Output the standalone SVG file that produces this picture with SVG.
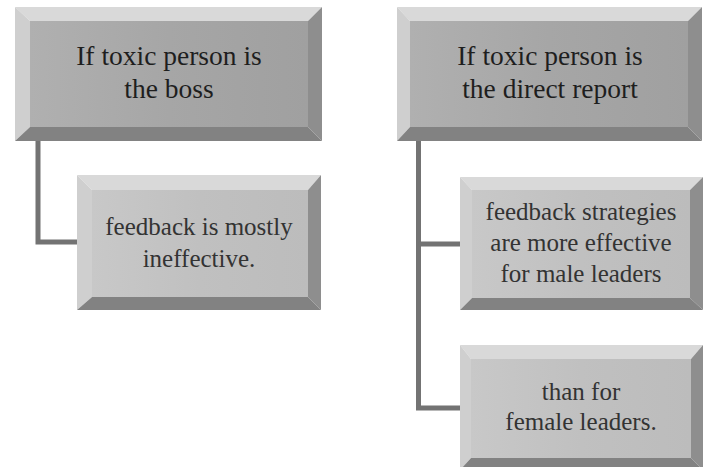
<svg xmlns="http://www.w3.org/2000/svg" width="707" height="467" viewBox="0 0 707 467">
<defs>
<linearGradient id="faceDark" x1="0" y1="0" x2="1" y2="0">
<stop offset="0" stop-color="#b0b0b0"/>
<stop offset="0.5" stop-color="#a6a6a6"/>
<stop offset="1" stop-color="#a0a0a0"/>
</linearGradient>
<linearGradient id="faceLight" x1="0" y1="0" x2="1" y2="0">
<stop offset="0" stop-color="#c8c8c8"/>
<stop offset="0.5" stop-color="#c0c0c0"/>
<stop offset="1" stop-color="#bcbcbc"/>
</linearGradient>
<style>
.top{fill:#d9d9d9}
.left{fill:#cfcfcf}
.right{fill:#8e8e8e}
.bottom{fill:#828282}
.fd{fill:url(#faceDark)}
.fl{fill:url(#faceLight)}
.t1{font-family:"Liberation Serif",serif;font-size:27.5px;fill:#1e1e1e;text-anchor:middle}
.t2{font-family:"Liberation Serif",serif;font-size:25px;fill:#333333;text-anchor:middle}
.conn{fill:none;stroke:#737373;stroke-width:5}
</style>
</defs>
<rect width="707" height="467" fill="#ffffff"/>
<g id="connectors">
<polyline class="conn" points="38,141 38,242 77,242"/>
<polyline class="conn" points="418.5,141 418.5,408 460,408"/>
<line class="conn" x1="418.5" y1="244" x2="460" y2="244"/>
</g>
<g id="node-boss">
<polygon class="top" points="15,7 322,7 308,21 30,21"/>
<polygon class="left" points="15,7 30,21 30,127 15,141"/>
<polygon class="right" points="322,7 322,141 308,127 308,21"/>
<polygon class="bottom" points="15,141 30,127 308,127 322,141"/>
<rect class="fd" x="30" y="21" width="278" height="106"/>
<text class="t1" x="169" y="65">If toxic person is</text>
<text class="t1" x="169" y="98">the boss</text>
</g>
<g id="node-direct">
<polygon class="top" points="397,7 702,7 688,21 410,21"/>
<polygon class="left" points="397,7 410,21 410,127 397,141"/>
<polygon class="right" points="702,7 702,141 688,127 688,21"/>
<polygon class="bottom" points="397,141 410,127 688,127 702,141"/>
<rect class="fd" x="410" y="21" width="278" height="106"/>
<text class="t1" x="550" y="65">If toxic person is</text>
<text class="t1" x="550" y="98">the direct report</text>
</g>
<g id="node-ineffective">
<polygon class="top" points="77,175 321,175 308,190 92,190"/>
<polygon class="left" points="77,175 92,190 92,297 77,310"/>
<polygon class="right" points="321,175 321,310 308,297 308,190"/>
<polygon class="bottom" points="77,310 92,297 308,297 321,310"/>
<rect class="fl" x="92" y="190" width="216" height="107"/>
<text class="t2" x="199" y="235">feedback is mostly</text>
<text class="t2" x="199" y="267">ineffective.</text>
</g>
<g id="node-male">
<polygon class="top" points="460,177 703,177 690,190 472,190"/>
<polygon class="left" points="460,177 472,190 472,298 460,310"/>
<polygon class="right" points="703,177 703,310 690,298 690,190"/>
<polygon class="bottom" points="460,310 472,298 690,298 703,310"/>
<rect class="fl" x="472" y="190" width="218" height="108"/>
<text class="t2" x="581" y="220">feedback strategies</text>
<text class="t2" x="581" y="251">are more effective</text>
<text class="t2" x="581" y="282">for male leaders</text>
</g>
<g id="node-female">
<polygon class="top" points="460,345 703,345 691,359 471,359"/>
<polygon class="left" points="460,345 471,359 471,458 460,470"/>
<polygon class="right" points="703,345 703,470 691,458 691,359"/>
<polygon class="bottom" points="460,470 471,458 691,458 703,470"/>
<rect class="fl" x="471" y="359" width="220" height="99"/>
<text class="t2" x="581" y="400">than for</text>
<text class="t2" x="581" y="430">female leaders.</text>
</g>
</svg>
